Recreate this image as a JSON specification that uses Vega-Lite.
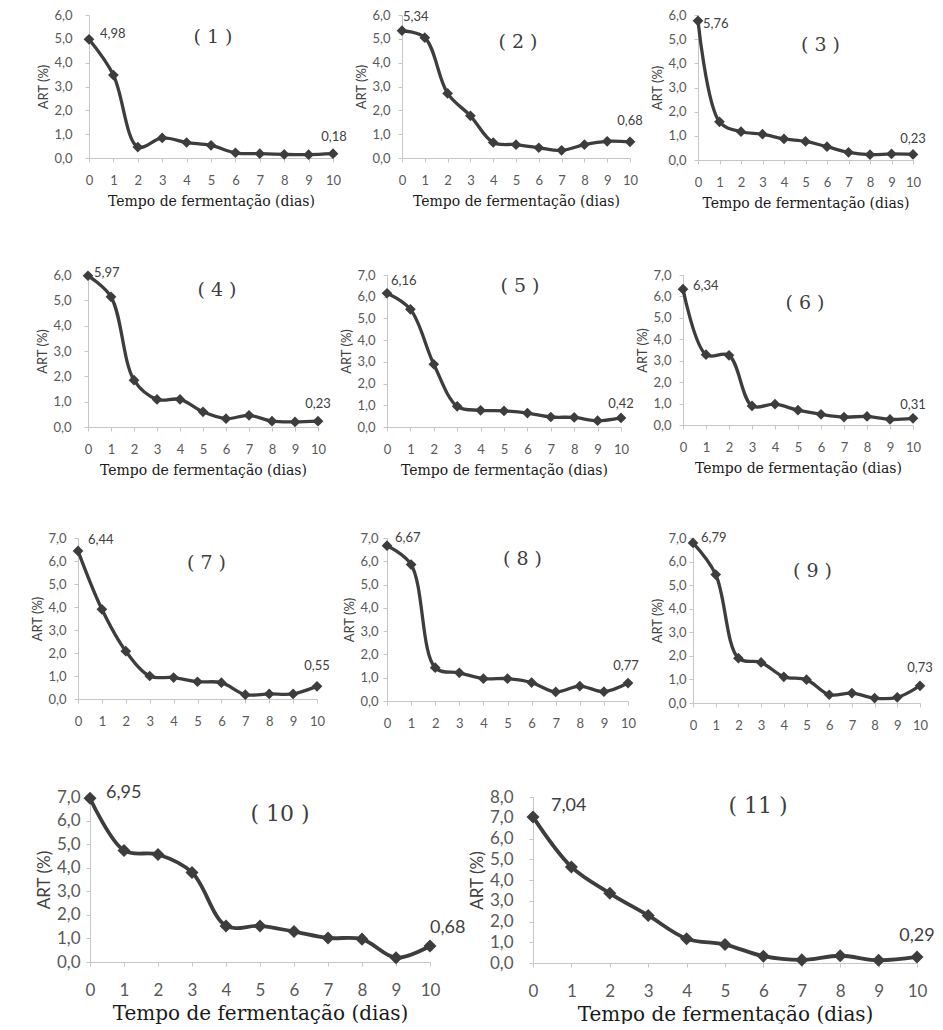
{
  "$schema": "https://vega.github.io/schema/vega-lite/v6.json",
  "background": "white",
  "padding": {"top": 9, "left": 0, "right": 0, "bottom": 0},
  "spacing": 0,
  "datasets": {
    "art": [
      {"painel": 1, "dia": 0, "art": 4.98}, {"painel": 1, "dia": 1, "art": 3.48}, {"painel": 1, "dia": 2, "art": 0.46}, {"painel": 1, "dia": 3, "art": 0.84}, {"painel": 1, "dia": 4, "art": 0.65}, {"painel": 1, "dia": 5, "art": 0.53}, {"painel": 1, "dia": 6, "art": 0.22}, {"painel": 1, "dia": 7, "art": 0.18}, {"painel": 1, "dia": 8, "art": 0.15}, {"painel": 1, "dia": 9, "art": 0.14}, {"painel": 1, "dia": 10, "art": 0.18},
      {"painel": 2, "dia": 0, "art": 5.34}, {"painel": 2, "dia": 1, "art": 5.05}, {"painel": 2, "dia": 2, "art": 2.71}, {"painel": 2, "dia": 3, "art": 1.77}, {"painel": 2, "dia": 4, "art": 0.65}, {"painel": 2, "dia": 5, "art": 0.56}, {"painel": 2, "dia": 6, "art": 0.43}, {"painel": 2, "dia": 7, "art": 0.32}, {"painel": 2, "dia": 8, "art": 0.56}, {"painel": 2, "dia": 9, "art": 0.7}, {"painel": 2, "dia": 10, "art": 0.68},
      {"painel": 3, "dia": 0, "art": 5.76}, {"painel": 3, "dia": 1, "art": 1.58}, {"painel": 3, "dia": 2, "art": 1.17}, {"painel": 3, "dia": 3, "art": 1.07}, {"painel": 3, "dia": 4, "art": 0.87}, {"painel": 3, "dia": 5, "art": 0.77}, {"painel": 3, "dia": 6, "art": 0.55}, {"painel": 3, "dia": 7, "art": 0.32}, {"painel": 3, "dia": 8, "art": 0.22}, {"painel": 3, "dia": 9, "art": 0.25}, {"painel": 3, "dia": 10, "art": 0.23},
      {"painel": 4, "dia": 0, "art": 5.97}, {"painel": 4, "dia": 1, "art": 5.14}, {"painel": 4, "dia": 2, "art": 1.85}, {"painel": 4, "dia": 3, "art": 1.09}, {"painel": 4, "dia": 4, "art": 1.09}, {"painel": 4, "dia": 5, "art": 0.6}, {"painel": 4, "dia": 6, "art": 0.33}, {"painel": 4, "dia": 7, "art": 0.46}, {"painel": 4, "dia": 8, "art": 0.23}, {"painel": 4, "dia": 9, "art": 0.2}, {"painel": 4, "dia": 10, "art": 0.23},
      {"painel": 5, "dia": 0, "art": 6.16}, {"painel": 5, "dia": 1, "art": 5.42}, {"painel": 5, "dia": 2, "art": 2.89}, {"painel": 5, "dia": 3, "art": 0.95}, {"painel": 5, "dia": 4, "art": 0.77}, {"painel": 5, "dia": 5, "art": 0.74}, {"painel": 5, "dia": 6, "art": 0.64}, {"painel": 5, "dia": 7, "art": 0.46}, {"painel": 5, "dia": 8, "art": 0.44}, {"painel": 5, "dia": 9, "art": 0.29}, {"painel": 5, "dia": 10, "art": 0.42},
      {"painel": 6, "dia": 0, "art": 6.34}, {"painel": 6, "dia": 1, "art": 3.28}, {"painel": 6, "dia": 2, "art": 3.25}, {"painel": 6, "dia": 3, "art": 0.89}, {"painel": 6, "dia": 4, "art": 0.97}, {"painel": 6, "dia": 5, "art": 0.69}, {"painel": 6, "dia": 6, "art": 0.5}, {"painel": 6, "dia": 7, "art": 0.37}, {"painel": 6, "dia": 8, "art": 0.4}, {"painel": 6, "dia": 9, "art": 0.26}, {"painel": 6, "dia": 10, "art": 0.31},
      {"painel": 7, "dia": 0, "art": 6.44}, {"painel": 7, "dia": 1, "art": 3.9}, {"painel": 7, "dia": 2, "art": 2.08}, {"painel": 7, "dia": 3, "art": 1.0}, {"painel": 7, "dia": 4, "art": 0.93}, {"painel": 7, "dia": 5, "art": 0.75}, {"painel": 7, "dia": 6, "art": 0.71}, {"painel": 7, "dia": 7, "art": 0.19}, {"painel": 7, "dia": 8, "art": 0.22}, {"painel": 7, "dia": 9, "art": 0.22}, {"painel": 7, "dia": 10, "art": 0.55},
      {"painel": 8, "dia": 0, "art": 6.67}, {"painel": 8, "dia": 1, "art": 5.86}, {"painel": 8, "dia": 2, "art": 1.43}, {"painel": 8, "dia": 3, "art": 1.21}, {"painel": 8, "dia": 4, "art": 0.96}, {"painel": 8, "dia": 5, "art": 0.96}, {"painel": 8, "dia": 6, "art": 0.79}, {"painel": 8, "dia": 7, "art": 0.39}, {"painel": 8, "dia": 8, "art": 0.64}, {"painel": 8, "dia": 9, "art": 0.4}, {"painel": 8, "dia": 10, "art": 0.77},
      {"painel": 9, "dia": 0, "art": 6.79}, {"painel": 9, "dia": 1, "art": 5.45}, {"painel": 9, "dia": 2, "art": 1.9}, {"painel": 9, "dia": 3, "art": 1.72}, {"painel": 9, "dia": 4, "art": 1.11}, {"painel": 9, "dia": 5, "art": 0.99}, {"painel": 9, "dia": 6, "art": 0.35}, {"painel": 9, "dia": 7, "art": 0.42}, {"painel": 9, "dia": 8, "art": 0.21}, {"painel": 9, "dia": 9, "art": 0.24}, {"painel": 9, "dia": 10, "art": 0.73},
      {"painel": 10, "dia": 0, "art": 6.95}, {"painel": 10, "dia": 1, "art": 4.73}, {"painel": 10, "dia": 2, "art": 4.56}, {"painel": 10, "dia": 3, "art": 3.8}, {"painel": 10, "dia": 4, "art": 1.53}, {"painel": 10, "dia": 5, "art": 1.53}, {"painel": 10, "dia": 6, "art": 1.29}, {"painel": 10, "dia": 7, "art": 1.02}, {"painel": 10, "dia": 8, "art": 0.97}, {"painel": 10, "dia": 9, "art": 0.18}, {"painel": 10, "dia": 10, "art": 0.68},
      {"painel": 11, "dia": 0, "art": 7.04}, {"painel": 11, "dia": 1, "art": 4.63}, {"painel": 11, "dia": 2, "art": 3.36}, {"painel": 11, "dia": 3, "art": 2.29}, {"painel": 11, "dia": 4, "art": 1.17}, {"painel": 11, "dia": 5, "art": 0.89}, {"painel": 11, "dia": 6, "art": 0.33}, {"painel": 11, "dia": 7, "art": 0.15}, {"painel": 11, "dia": 8, "art": 0.35}, {"painel": 11, "dia": 9, "art": 0.13}, {"painel": 11, "dia": 10, "art": 0.29}
    ]
  },
  "vconcat": [
    {
      "bounds": "flush",
      "spacing": 0,
      "hconcat": [
        {"width": 89, "height": 251, "data": {"values": []}, "mark": {"type": "point", "opacity": 0}},
        {
          "width": 244, "height": 143,
          "title": {"text": "( 1 )", "offset": -38, "dx": 2},
          "data": {"name": "art"},
          "transform": [{"filter": "datum.painel == 1"}],
          "encoding": {
            "x": {"field": "dia", "type": "quantitative", "scale": {"domain": [0, 10], "nice": false}, "axis": {"values": [0, 1, 2, 3, 4, 5, 6, 7, 8, 9, 10], "format": "d", "title": "Tempo de fermentação (dias)"}},
            "y": {"field": "art", "type": "quantitative", "scale": {"domain": [0, 6], "nice": false}, "axis": {"values": [0, 1, 2, 3, 4, 5, 6], "format": ".1f", "title": "ART (%)", "labelPadding": 13}}
          },
          "layer": [
            {"mark": {"type": "line", "interpolate": "catmull-rom"}},
            {"mark": {"type": "point", "shape": "diamond", "filled": true}},
            {"transform": [{"filter": "datum.dia == 0"}], "mark": {"type": "text", "align": "left", "dx": 11, "dy": -5}, "encoding": {"text": {"field": "art", "format": ".2f"}}},
            {"transform": [{"filter": "datum.dia == 10"}], "mark": {"type": "text", "align": "center", "dx": 1, "dy": -17}, "encoding": {"text": {"field": "art", "format": ".2f"}}}
          ]
        },
        {"width": 69, "height": 1, "data": {"values": []}, "mark": {"type": "point", "opacity": 0}},
        {
          "width": 228, "height": 143,
          "title": {"text": "( 2 )", "offset": -43, "dx": 2},
          "data": {"name": "art"},
          "transform": [{"filter": "datum.painel == 2"}],
          "encoding": {
            "x": {"field": "dia", "type": "quantitative", "scale": {"domain": [0, 10], "nice": false}, "axis": {"values": [0, 1, 2, 3, 4, 5, 6, 7, 8, 9, 10], "format": "d", "title": "Tempo de fermentação (dias)"}},
            "y": {"field": "art", "type": "quantitative", "scale": {"domain": [0, 6], "nice": false}, "axis": {"values": [0, 1, 2, 3, 4, 5, 6], "format": ".1f", "title": "ART (%)"}}
          },
          "layer": [
            {"mark": {"type": "line", "interpolate": "catmull-rom"}},
            {"mark": {"type": "point", "shape": "diamond", "filled": true}},
            {"transform": [{"filter": "datum.dia == 0"}], "mark": {"type": "text", "align": "left", "dx": 1, "dy": -14}, "encoding": {"text": {"field": "art", "format": ".2f"}}},
            {"transform": [{"filter": "datum.dia == 10"}], "mark": {"type": "text", "align": "center", "dy": -21}, "encoding": {"text": {"field": "art", "format": ".2f"}}}
          ]
        },
        {"width": 68, "height": 1, "data": {"values": []}, "mark": {"type": "point", "opacity": 0}},
        {
          "width": 215, "height": 145,
          "title": {"text": "( 3 )", "offset": -46, "dx": 15},
          "data": {"name": "art"},
          "transform": [{"filter": "datum.painel == 3"}],
          "encoding": {
            "x": {"field": "dia", "type": "quantitative", "scale": {"domain": [0, 10], "nice": false}, "axis": {"values": [0, 1, 2, 3, 4, 5, 6, 7, 8, 9, 10], "format": "d", "title": "Tempo de fermentação (dias)"}},
            "y": {"field": "art", "type": "quantitative", "scale": {"domain": [0, 6], "nice": false}, "axis": {"values": [0, 1, 2, 3, 4, 5, 6], "format": ".1f", "title": "ART (%)"}}
          },
          "layer": [
            {"mark": {"type": "line", "interpolate": "catmull-rom"}},
            {"mark": {"type": "point", "shape": "diamond", "filled": true}},
            {"transform": [{"filter": "datum.dia == 0"}], "mark": {"type": "text", "align": "left", "dx": 5, "dy": 3}, "encoding": {"text": {"field": "art", "format": ".2f"}}},
            {"transform": [{"filter": "datum.dia == 10"}], "mark": {"type": "text", "align": "center", "dy": -15}, "encoding": {"text": {"field": "art", "format": ".2f"}}}
          ]
        }
      ]
    },
    {
      "bounds": "flush",
      "spacing": 0,
      "hconcat": [
        {"width": 88, "height": 256, "data": {"values": []}, "mark": {"type": "point", "opacity": 0}},
        {
          "width": 230, "height": 152,
          "title": {"text": "( 4 )", "offset": -33, "dx": 14},
          "data": {"name": "art"},
          "transform": [{"filter": "datum.painel == 4"}],
          "encoding": {
            "x": {"field": "dia", "type": "quantitative", "scale": {"domain": [0, 10], "nice": false}, "axis": {"values": [0, 1, 2, 3, 4, 5, 6, 7, 8, 9, 10], "format": "d", "title": "Tempo de fermentação (dias)"}},
            "y": {"field": "art", "type": "quantitative", "scale": {"domain": [0, 6], "nice": false}, "axis": {"values": [0, 1, 2, 3, 4, 5, 6], "format": ".1f", "title": "ART (%)", "labelPadding": 13}}
          },
          "layer": [
            {"mark": {"type": "line", "interpolate": "catmull-rom"}},
            {"mark": {"type": "point", "shape": "diamond", "filled": true}},
            {"transform": [{"filter": "datum.dia == 0"}], "mark": {"type": "text", "align": "left", "dx": 6, "dy": -3}, "encoding": {"text": {"field": "art", "format": ".2f"}}},
            {"transform": [{"filter": "datum.dia == 10"}], "mark": {"type": "text", "align": "center", "dy": -17}, "encoding": {"text": {"field": "art", "format": ".2f"}}}
          ]
        },
        {"width": 69, "height": 1, "data": {"values": []}, "mark": {"type": "point", "opacity": 0}},
        {
          "width": 234, "height": 152,
          "title": {"text": "( 5 )", "offset": -27, "dx": 16},
          "data": {"name": "art"},
          "transform": [{"filter": "datum.painel == 5"}],
          "encoding": {
            "x": {"field": "dia", "type": "quantitative", "scale": {"domain": [0, 10], "nice": false}, "axis": {"values": [0, 1, 2, 3, 4, 5, 6, 7, 8, 9, 10], "format": "d", "title": "Tempo de fermentação (dias)"}},
            "y": {"field": "art", "type": "quantitative", "scale": {"domain": [0, 7], "nice": false}, "axis": {"values": [0, 1, 2, 3, 4, 5, 6, 7], "format": ".1f", "title": "ART (%)"}}
          },
          "layer": [
            {"mark": {"type": "line", "interpolate": "catmull-rom"}},
            {"mark": {"type": "point", "shape": "diamond", "filled": true}},
            {"transform": [{"filter": "datum.dia == 0"}], "mark": {"type": "text", "align": "left", "dx": 4, "dy": -12}, "encoding": {"text": {"field": "art", "format": ".2f"}}},
            {"transform": [{"filter": "datum.dia == 10"}], "mark": {"type": "text", "align": "center", "dy": -14}, "encoding": {"text": {"field": "art", "format": ".2f"}}}
          ]
        },
        {"width": 62, "height": 1, "data": {"values": []}, "mark": {"type": "point", "opacity": 0}},
        {
          "width": 230, "height": 150,
          "title": {"text": "( 6 )", "offset": -44, "dx": 7},
          "data": {"name": "art"},
          "transform": [{"filter": "datum.painel == 6"}],
          "encoding": {
            "x": {"field": "dia", "type": "quantitative", "scale": {"domain": [0, 10], "nice": false}, "axis": {"values": [0, 1, 2, 3, 4, 5, 6, 7, 8, 9, 10], "format": "d", "title": "Tempo de fermentação (dias)"}},
            "y": {"field": "art", "type": "quantitative", "scale": {"domain": [0, 7], "nice": false}, "axis": {"values": [0, 1, 2, 3, 4, 5, 6, 7], "format": ".1f", "title": "ART (%)"}}
          },
          "layer": [
            {"mark": {"type": "line", "interpolate": "catmull-rom"}},
            {"mark": {"type": "point", "shape": "diamond", "filled": true}},
            {"transform": [{"filter": "datum.dia == 0"}], "mark": {"type": "text", "align": "left", "dx": 10, "dy": -3}, "encoding": {"text": {"field": "art", "format": ".2f"}}},
            {"transform": [{"filter": "datum.dia == 10"}], "mark": {"type": "text", "align": "center", "dy": -13}, "encoding": {"text": {"field": "art", "format": ".2f"}}}
          ]
        }
      ]
    },
    {
      "bounds": "flush",
      "spacing": 0,
      "hconcat": [
        {"width": 78, "height": 246, "data": {"values": []}, "mark": {"type": "point", "opacity": 0}},
        {
          "width": 239, "height": 161,
          "title": {"text": "( 7 )", "offset": -41, "dx": 9},
          "data": {"name": "art"},
          "transform": [{"filter": "datum.painel == 7"}],
          "encoding": {
            "x": {"field": "dia", "type": "quantitative", "scale": {"domain": [0, 10], "nice": false}, "axis": {"values": [0, 1, 2, 3, 4, 5, 6, 7, 8, 9, 10], "format": "d", "title": null}},
            "y": {"field": "art", "type": "quantitative", "scale": {"domain": [0, 7], "nice": false}, "axis": {"values": [0, 1, 2, 3, 4, 5, 6, 7], "format": ".1f", "title": "ART (%)"}}
          },
          "layer": [
            {"mark": {"type": "line", "interpolate": "catmull-rom"}},
            {"mark": {"type": "point", "shape": "diamond", "filled": true}},
            {"transform": [{"filter": "datum.dia == 0"}], "mark": {"type": "text", "align": "left", "dx": 10, "dy": -11}, "encoding": {"text": {"field": "art", "format": ".2f"}}},
            {"transform": [{"filter": "datum.dia == 10"}], "mark": {"type": "text", "align": "center", "dy": -20}, "encoding": {"text": {"field": "art", "format": ".2f"}}}
          ]
        },
        {"width": 70, "height": 1, "data": {"values": []}, "mark": {"type": "point", "opacity": 0}},
        {
          "width": 241, "height": 163,
          "title": {"text": "( 8 )", "offset": -37, "dx": 15},
          "data": {"name": "art"},
          "transform": [{"filter": "datum.painel == 8"}],
          "encoding": {
            "x": {"field": "dia", "type": "quantitative", "scale": {"domain": [0, 10], "nice": false}, "axis": {"values": [0, 1, 2, 3, 4, 5, 6, 7, 8, 9, 10], "format": "d", "title": null}},
            "y": {"field": "art", "type": "quantitative", "scale": {"domain": [0, 7], "nice": false}, "axis": {"values": [0, 1, 2, 3, 4, 5, 6, 7], "format": ".1f", "title": "ART (%)", "labelPadding": 5}}
          },
          "layer": [
            {"mark": {"type": "line", "interpolate": "catmull-rom"}},
            {"mark": {"type": "point", "shape": "diamond", "filled": true}},
            {"transform": [{"filter": "datum.dia == 0"}], "mark": {"type": "text", "align": "left", "dx": 8, "dy": -8}, "encoding": {"text": {"field": "art", "format": ".2f"}}},
            {"transform": [{"filter": "datum.dia == 10"}], "mark": {"type": "text", "align": "center", "dx": -2, "dy": -17}, "encoding": {"text": {"field": "art", "format": ".2f"}}}
          ]
        },
        {"width": 65, "height": 1, "data": {"values": []}, "mark": {"type": "point", "opacity": 0}},
        {
          "width": 227, "height": 165,
          "title": {"text": "( 9 )", "offset": -49, "dx": 6},
          "data": {"name": "art"},
          "transform": [{"filter": "datum.painel == 9"}],
          "encoding": {
            "x": {"field": "dia", "type": "quantitative", "scale": {"domain": [0, 10], "nice": false}, "axis": {"values": [0, 1, 2, 3, 4, 5, 6, 7, 8, 9, 10], "format": "d", "title": null}},
            "y": {"field": "art", "type": "quantitative", "scale": {"domain": [0, 7], "nice": false}, "axis": {"values": [0, 1, 2, 3, 4, 5, 6, 7], "format": ".1f", "title": "ART (%)", "labelPadding": 3}}
          },
          "layer": [
            {"mark": {"type": "line", "interpolate": "catmull-rom"}},
            {"mark": {"type": "point", "shape": "diamond", "filled": true}},
            {"transform": [{"filter": "datum.dia == 0"}], "mark": {"type": "text", "align": "left", "dx": 8, "dy": -5}, "encoding": {"text": {"field": "art", "format": ".2f"}}},
            {"transform": [{"filter": "datum.dia == 10"}], "mark": {"type": "text", "align": "center", "dy": -18}, "encoding": {"text": {"field": "art", "format": ".2f"}}}
          ]
        }
      ]
    },
    {
      "bounds": "flush",
      "spacing": 0,
      "hconcat": [
        {"width": 90, "height": 1, "data": {"values": []}, "mark": {"type": "point", "opacity": 0}},
        {
          "width": 340, "height": 165,
          "title": {"text": "( 10 )", "offset": -42, "dx": 20, "fontSize": 22},
          "data": {"name": "art"},
          "transform": [{"filter": "datum.painel == 10"}],
          "encoding": {
            "x": {"field": "dia", "type": "quantitative", "scale": {"domain": [0, 10], "nice": false}, "axis": {"values": [0, 1, 2, 3, 4, 5, 6, 7, 8, 9, 10], "format": "d", "title": "Tempo de fermentação (dias)", "labelFontSize": 17, "labelPadding": 16, "titleFontSize": 20, "titlePadding": 5}},
            "y": {"field": "art", "type": "quantitative", "scale": {"domain": [0, 7], "nice": false}, "axis": {"values": [0, 1, 2, 3, 4, 5, 6, 7], "format": ".1f", "title": "ART (%)", "labelFontSize": 17, "titleFontSize": 17, "labelPadding": 6}}
          },
          "layer": [
            {"mark": {"type": "line", "interpolate": "catmull-rom", "strokeWidth": 3.8}},
            {"mark": {"type": "point", "shape": "diamond", "filled": true, "size": 170}},
            {"transform": [{"filter": "datum.dia == 0"}], "mark": {"type": "text", "align": "left", "dx": 16, "dy": -5, "fontSize": 18}, "encoding": {"text": {"field": "art", "format": ".2f"}}},
            {"transform": [{"filter": "datum.dia == 10"}], "mark": {"type": "text", "align": "left", "dx": 0, "dy": -18, "fontSize": 18}, "encoding": {"text": {"field": "art", "format": ".2f"}}}
          ]
        },
        {"width": 103, "height": 1, "data": {"values": []}, "mark": {"type": "point", "opacity": 0}},
        {
          "width": 384, "height": 166,
          "title": {"text": "( 11 )", "offset": -30, "dx": 33, "fontSize": 22},
          "data": {"name": "art"},
          "transform": [{"filter": "datum.painel == 11"}],
          "encoding": {
            "x": {"field": "dia", "type": "quantitative", "scale": {"domain": [0, 10], "nice": false}, "axis": {"values": [0, 1, 2, 3, 4, 5, 6, 7, 8, 9, 10], "format": "d", "title": "Tempo de fermentação (dias)", "labelFontSize": 17, "labelPadding": 16, "titleFontSize": 20, "titlePadding": 5}},
            "y": {"field": "art", "type": "quantitative", "scale": {"domain": [0, 8], "nice": false}, "axis": {"values": [0, 1, 2, 3, 4, 5, 6, 7, 8], "format": ".1f", "title": "ART (%)", "labelFontSize": 17, "titleFontSize": 17, "labelPadding": 16}}
          },
          "layer": [
            {"mark": {"type": "line", "interpolate": "catmull-rom", "strokeWidth": 3.8}},
            {"mark": {"type": "point", "shape": "diamond", "filled": true, "size": 170}},
            {"transform": [{"filter": "datum.dia == 0"}], "mark": {"type": "text", "align": "left", "dx": 18, "dy": -11, "fontSize": 18}, "encoding": {"text": {"field": "art", "format": ".2f"}}},
            {"transform": [{"filter": "datum.dia == 10"}], "mark": {"type": "text", "align": "center", "dy": -21, "fontSize": 18}, "encoding": {"text": {"field": "art", "format": ".2f"}}}
          ]
        }
      ]
    }
  ],
  "config": {
    "locale": {"number": {"decimal": ",", "thousands": ".", "grouping": [3], "currency": ["", " €"]}},
    "view": {"stroke": null},
    "axis": {"grid": false, "domainColor": "#c6c6c6", "tickColor": "#c6c6c6", "tickSize": 4, "labelFont": "Lato", "labelFontSize": 13, "labelColor": "#595959", "titleFontWeight": "normal"},
    "axisX": {"labelPadding": 12, "labelAngle": 0, "labelFlush": false, "labelOverlap": false, "titleFont": "DejaVu Serif", "titleFontSize": 14, "titleColor": "#1a1a1a", "titlePadding": 7},
    "axisY": {"labelPadding": 8, "labelOverlap": false, "titleFont": "Lato", "titleFontSize": 13, "titleColor": "#404040", "titlePadding": 3},
    "line": {"color": "#3d3d3d", "strokeWidth": 3.3},
    "point": {"color": "#3d3d3d", "size": 115, "opacity": 1},
    "text": {"font": "Lato", "fontSize": 13, "color": "#404040"},
    "title": {"font": "DejaVu Serif", "fontSize": 19, "fontWeight": "normal", "color": "#404040", "anchor": "middle", "frame": "group", "baseline": "middle"}
  }
}
